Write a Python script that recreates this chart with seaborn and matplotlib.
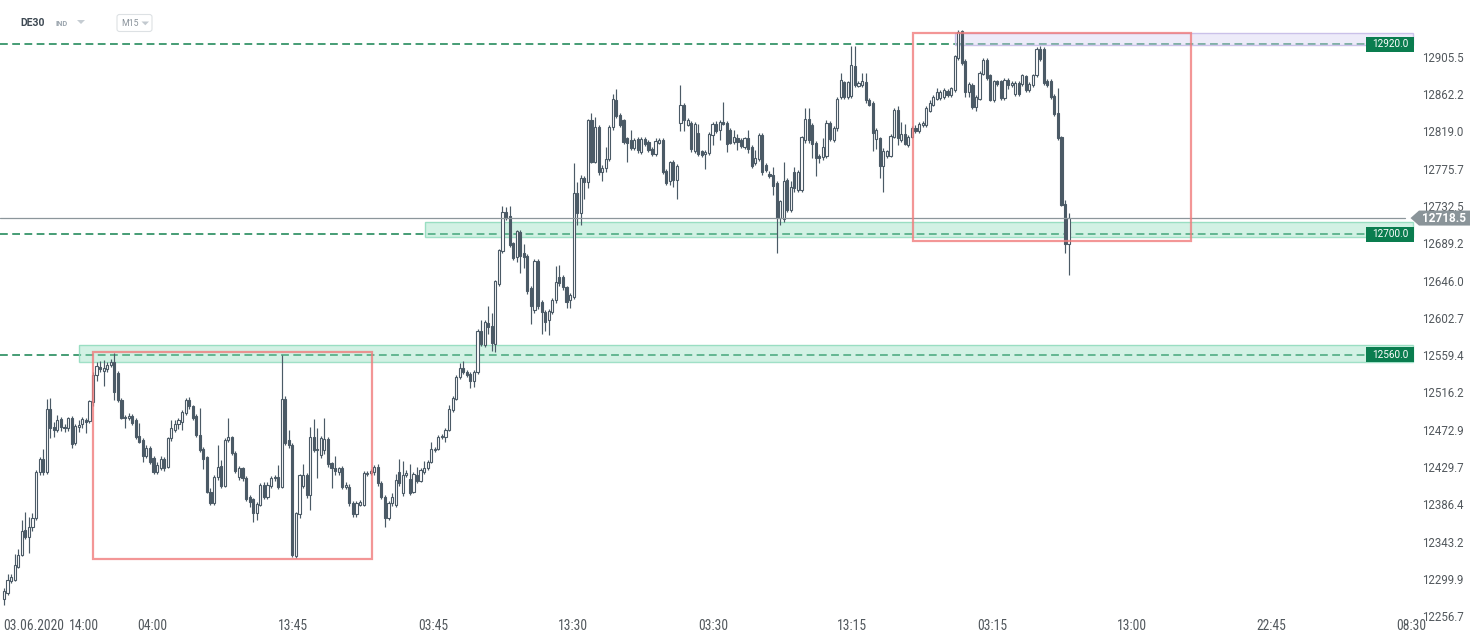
# -*- coding: utf-8 -*-
"""
DE30 M15 candles with support / resistance zones (XTB style screenshot).
"""

import numpy as np
import pandas as pd
import seaborn as sns
import matplotlib.pyplot as plt
from matplotlib import font_manager
from matplotlib.patches import Rectangle, Polygon, FancyBboxPatch
from matplotlib.transforms import IdentityTransform


# Candles (M15)
candle_open = [
    12276, 12284, 12297, 12299, 12314, 12328, 12357, 12348, 12360, 12370,
    12424, 12439, 12424, 12497, 12476, 12473, 12485, 12476, 12475, 12486,
    12457, 12476, 12479, 12484, 12483, 12505, 12536, 12546, 12541, 12543,
    12548, 12551, 12539, 12508, 12488, 12486, 12489, 12484, 12466, 12461,
    12442, 12452, 12440, 12424, 12429, 12439, 12430, 12463, 12473, 12479,
    12482, 12492, 12508, 12500, 12489, 12467, 12451, 12441, 12401, 12388,
    12418, 12431, 12408, 12461, 12464, 12446, 12418, 12428, 12417, 12395,
    12392, 12376, 12386, 12409, 12395, 12408, 12417, 12418, 12407, 12509,
    12461, 12455, 12326, 12375, 12408, 12420, 12397, 12464, 12449, 12444,
    12449, 12462, 12434, 12429, 12424, 12428, 12407, 12407, 12388, 12375,
    12386, 12386, 12421, 12423, 12424, 12430, 12411, 12395, 12371, 12388,
    12386, 12424, 12399, 12420, 12416, 12401, 12420, 12414, 12424, 12428,
    12436, 12449, 12451, 12464, 12464, 12473, 12496, 12509, 12534, 12545,
    12540, 12538, 12529, 12540, 12587, 12571, 12597, 12593, 12572, 12642,
    12680, 12726, 12721, 12689, 12673, 12702, 12678, 12674, 12637, 12612,
    12669, 12621, 12610, 12600, 12609, 12623, 12650, 12650, 12638, 12623,
    12627, 12748, 12724, 12765, 12760, 12832, 12784, 12824, 12772, 12777,
    12787, 12824, 12856, 12838, 12832, 12811, 12809, 12800, 12810, 12795,
    12810, 12807, 12799, 12793, 12806, 12809, 12773, 12761, 12783, 12763,
    12829, 12850, 12827, 12829, 12796, 12817, 12796, 12793, 12794, 12815,
    12828, 12821, 12830, 12829, 12821, 12807, 12811, 12809, 12801, 12811,
    12801, 12782, 12787, 12815, 12780, 12770, 12769, 12759, 12718, 12717,
    12763, 12728, 12772, 12751, 12751, 12809, 12833, 12827, 12806, 12791,
    12789, 12790, 12829, 12809, 12823, 12859, 12876, 12859, 12860, 12895,
    12872, 12873, 12876, 12856, 12852, 12810, 12811, 12779, 12790, 12791,
    12813, 12844, 12809, 12816, 12803, 12813, 12823, 12819, 12826, 12826,
    12843, 12850, 12857, 12858, 12859, 12866, 12861, 12867, 12904, 12935,
    12901, 12865, 12873, 12847, 12857, 12886, 12902, 12884, 12855, 12877,
    12877, 12858, 12879, 12873, 12862, 12875, 12874, 12883, 12867, 12873,
    12884, 12915, 12915, 12878, 12878, 12860, 12840, 12812, 12735, 12688,
]
candle_high = [
    12289, 12306, 12306, 12329, 12335, 12368, 12378, 12372, 12376, 12426,
    12441, 12450, 12509, 12510, 12482, 12490, 12488, 12480, 12488, 12489,
    12480, 12484, 12488, 12487, 12508, 12540, 12552, 12553, 12554, 12552,
    12555, 12562, 12541, 12510, 12490, 12492, 12491, 12486, 12481, 12463,
    12455, 12454, 12442, 12435, 12442, 12441, 12465, 12484, 12484, 12487,
    12496, 12510, 12511, 12502, 12491, 12498, 12453, 12443, 12405, 12420,
    12455, 12438, 12463, 12486, 12466, 12448, 12431, 12430, 12419, 12397,
    12394, 12389, 12411, 12412, 12412, 12419, 12420, 12432, 12560, 12512,
    12473, 12458, 12378, 12422, 12433, 12423, 12476, 12485, 12475, 12466,
    12487, 12465, 12436, 12442, 12430, 12431, 12412, 12410, 12390, 12390,
    12391, 12425, 12425, 12427, 12432, 12433, 12413, 12397, 12390, 12399,
    12421, 12439, 12437, 12426, 12433, 12424, 12430, 12428, 12437, 12438,
    12459, 12453, 12467, 12468, 12475, 12502, 12512, 12537, 12550, 12553,
    12542, 12540, 12542, 12590, 12600, 12600, 12616, 12608, 12647, 12683,
    12732, 12731, 12733, 12691, 12705, 12705, 12688, 12677, 12640, 12671,
    12671, 12623, 12612, 12613, 12626, 12663, 12664, 12652, 12640, 12631,
    12782, 12760, 12768, 12767, 12834, 12840, 12836, 12826, 12780, 12801,
    12826, 12863, 12868, 12840, 12834, 12813, 12821, 12811, 12812, 12812,
    12813, 12809, 12801, 12811, 12811, 12811, 12775, 12785, 12786, 12781,
    12873, 12852, 12835, 12831, 12830, 12828, 12798, 12797, 12818, 12830,
    12831, 12832, 12853, 12831, 12823, 12821, 12816, 12811, 12813, 12821,
    12803, 12798, 12817, 12817, 12782, 12773, 12778, 12761, 12740, 12783,
    12765, 12761, 12778, 12774, 12814, 12846, 12846, 12829, 12808, 12793,
    12811, 12832, 12831, 12825, 12859, 12887, 12878, 12878, 12918, 12918,
    12877, 12887, 12887, 12858, 12854, 12823, 12813, 12800, 12798, 12816,
    12846, 12848, 12830, 12828, 12815, 12825, 12826, 12830, 12831, 12848,
    12855, 12861, 12869, 12867, 12869, 12868, 12871, 12908, 12937, 12937,
    12903, 12876, 12875, 12861, 12889, 12904, 12904, 12886, 12879, 12879,
    12879, 12881, 12881, 12877, 12877, 12877, 12886, 12885, 12876, 12886,
    12917, 12918, 12917, 12880, 12880, 12862, 12869, 12814, 12740, 12724,
]
candle_low = [
    12270, 12281, 12295, 12297, 12312, 12326, 12346, 12330, 12356, 12368,
    12420, 12420, 12422, 12463, 12465, 12470, 12472, 12470, 12472, 12452,
    12455, 12470, 12475, 12469, 12481, 12500, 12529, 12540, 12524, 12540,
    12546, 12507, 12505, 12485, 12475, 12484, 12478, 12462, 12457, 12436,
    12440, 12433, 12422, 12422, 12426, 12425, 12428, 12460, 12470, 12474,
    12473, 12490, 12497, 12484, 12465, 12447, 12427, 12399, 12386, 12386,
    12415, 12405, 12406, 12459, 12444, 12423, 12415, 12414, 12390, 12383,
    12366, 12368, 12384, 12393, 12393, 12405, 12413, 12404, 12405, 12455,
    12452, 12325, 12324, 12370, 12405, 12394, 12380, 12447, 12417, 12440,
    12445, 12430, 12405, 12420, 12420, 12404, 12404, 12385, 12372, 12372,
    12384, 12384, 12419, 12420, 12420, 12408, 12393, 12360, 12368, 12385,
    12383, 12408, 12396, 12418, 12397, 12399, 12411, 12412, 12422, 12426,
    12434, 12447, 12449, 12462, 12459, 12471, 12494, 12507, 12532, 12538,
    12534, 12521, 12523, 12538, 12570, 12569, 12584, 12564, 12563, 12640,
    12678, 12716, 12685, 12670, 12668, 12655, 12660, 12630, 12596, 12608,
    12613, 12584, 12587, 12583, 12607, 12620, 12640, 12635, 12614, 12614,
    12625, 12711, 12710, 12741, 12753, 12782, 12782, 12768, 12761, 12772,
    12785, 12821, 12835, 12824, 12805, 12784, 12798, 12798, 12794, 12793,
    12802, 12795, 12791, 12790, 12804, 12770, 12757, 12757, 12755, 12741,
    12819, 12819, 12825, 12795, 12794, 12791, 12789, 12775, 12792, 12803,
    12817, 12809, 12826, 12795, 12804, 12804, 12798, 12800, 12799, 12794,
    12777, 12780, 12785, 12768, 12772, 12765, 12745, 12678, 12710, 12714,
    12725, 12725, 12749, 12749, 12749, 12806, 12806, 12788, 12767, 12782,
    12786, 12788, 12808, 12807, 12820, 12857, 12857, 12857, 12858, 12870,
    12870, 12871, 12852, 12848, 12796, 12799, 12765, 12749, 12788, 12789,
    12811, 12803, 12807, 12803, 12801, 12811, 12817, 12817, 12824, 12824,
    12841, 12848, 12855, 12856, 12857, 12859, 12859, 12865, 12902, 12896,
    12859, 12859, 12845, 12843, 12855, 12884, 12879, 12854, 12853, 12872,
    12856, 12856, 12868, 12871, 12860, 12860, 12872, 12865, 12865, 12871,
    12882, 12901, 12873, 12871, 12857, 12837, 12809, 12732, 12678, 12652,
]
candle_close = [
    12286, 12299, 12302, 12316, 12328, 12356, 12348, 12360, 12370, 12424,
    12439, 12424, 12497, 12475, 12473, 12484, 12476, 12475, 12486, 12456,
    12477, 12478, 12485, 12482, 12506, 12536, 12547, 12543, 12544, 12548,
    12551, 12517, 12507, 12487, 12486, 12489, 12481, 12464, 12459, 12442,
    12452, 12436, 12424, 12432, 12439, 12429, 12463, 12475, 12479, 12484,
    12493, 12508, 12500, 12486, 12467, 12449, 12439, 12401, 12388, 12418,
    12430, 12408, 12461, 12464, 12446, 12425, 12428, 12417, 12393, 12389,
    12376, 12387, 12409, 12395, 12409, 12417, 12418, 12407, 12509, 12458,
    12455, 12328, 12376, 12420, 12420, 12397, 12464, 12449, 12451, 12463,
    12462, 12433, 12428, 12425, 12428, 12407, 12409, 12388, 12375, 12388,
    12389, 12423, 12423, 12425, 12430, 12411, 12395, 12371, 12388, 12395,
    12415, 12411, 12420, 12423, 12400, 12422, 12413, 12426, 12428, 12436,
    12450, 12451, 12465, 12466, 12473, 12497, 12510, 12534, 12545, 12540,
    12536, 12529, 12540, 12587, 12572, 12598, 12592, 12573, 12645, 12681,
    12726, 12719, 12687, 12672, 12703, 12674, 12673, 12634, 12616, 12669,
    12617, 12610, 12598, 12611, 12623, 12644, 12643, 12638, 12621, 12629,
    12748, 12724, 12765, 12760, 12832, 12784, 12824, 12772, 12777, 12787,
    12824, 12857, 12837, 12826, 12807, 12806, 12800, 12809, 12797, 12810,
    12805, 12797, 12793, 12808, 12809, 12772, 12759, 12783, 12763, 12779,
    12850, 12832, 12832, 12799, 12828, 12793, 12792, 12795, 12816, 12828,
    12819, 12830, 12828, 12805, 12806, 12812, 12807, 12802, 12811, 12799,
    12779, 12788, 12815, 12772, 12774, 12767, 12756, 12718, 12738, 12762,
    12728, 12755, 12753, 12772, 12812, 12833, 12809, 12805, 12788, 12788,
    12801, 12829, 12810, 12823, 12857, 12879, 12859, 12876, 12896, 12873,
    12875, 12877, 12855, 12850, 12817, 12821, 12779, 12796, 12796, 12814,
    12844, 12811, 12816, 12804, 12813, 12823, 12819, 12828, 12829, 12846,
    12852, 12859, 12865, 12865, 12867, 12861, 12869, 12906, 12934, 12898,
    12865, 12874, 12847, 12859, 12887, 12902, 12881, 12856, 12877, 12874,
    12858, 12879, 12873, 12875, 12875, 12862, 12884, 12867, 12874, 12884,
    12915, 12903, 12875, 12873, 12859, 12839, 12811, 12734, 12688, 12718.5,
]

# Axis labels
x_tick_pos = [8.4, 22.5, 41.7, 81.2, 120.5, 159.8, 199.2, 238.2, 277.7,
              316.7, 356.0, 395.4]
x_tick_text = ["03.06.2020", "14:00", "04:00", "13:45", "03:45", "13:30",
               "03:30", "13:15", "03:15", "13:00", "22:45", "08:30"]
y_tick_values = [12256.7, 12299.9, 12343.2, 12386.4, 12429.7, 12472.9,
                 12516.2, 12559.4, 12602.7, 12646.0, 12689.2, 12732.5,
                 12775.7, 12819.0, 12862.2, 12905.5]

# Levels and zones
level_values = [12920.0, 12700.0, 12560.0]
last_price = 12718.5
zone_low = [12696.2, 12551.9, 12919.3]
zone_high = [12714.3, 12570.9, 12932.8]
zone_start = [118.3, 21.2, 267.1]
# red boxes: (first candle, last candle, low, high)
box_x0 = [25.1, 255.4]
box_x1 = [103.3, 333.4]
box_low = [12322.6, 12692.2]
box_high = [12563.5, 12932.8]


# Style
sns.set_theme(style="white")
plt.rcParams['font.family'] = ['Roboto', 'DejaVu Sans']
plt.rcParams['lines.scale_dashes'] = False

available = {f.name for f in font_manager.fontManager.ttflist}
if 'Liberation Sans Narrow' in available:
    narrow, x_size = 'Liberation Sans Narrow', 10.3
elif 'Roboto Condensed' in available:
    narrow, x_size = 'Roboto Condensed', 9.8
else:
    narrow, x_size = 'Roboto', 8.8

candle_color = "#4b5a66"
level_color = "#13824f"
tag_green = "#0a7d4f"
tag_gray = "#8a9499"
label_color = "#52585d"

W, H = 1482, 643
fig = plt.figure(figsize=(W / 100, H / 100), dpi=100)
fig.patch.set_facecolor("white")
ax = fig.add_axes([0, 25 / H, 1415 / W, 618 / H])
ax.set_facecolor("white")
ax.set_xlim(-1.12, 396.3)
ax.set_ylim(12254.5, 12971.5)

df = pd.DataFrame({"open": candle_open, "high": candle_high,
                   "low": candle_low, "close": candle_close})
df["x"] = np.arange(len(df))
bull = df["close"] >= df["open"]
body_bottom = df[["open", "close"]].min(axis=1)
body_height = np.maximum((df["close"] - df["open"]).abs(), 0.7)

# levels (dashed) and last price line
for v in level_values:
    ax.axhline(v, xmin=0, xmax=1366 / 1415, color=level_color, lw=1.1,
               dashes=(5.6, 3.2), zorder=1)

# zones
zone_faces = ["#8fdcbd", "#8fdcbd", "#d4cdf0"]
zone_edges = [(0.56, 0.86, 0.74, 0.85), (0.56, 0.86, 0.74, 0.85),
              (0.78, 0.74, 0.91, 0.9)]
for lo, hi, start, fc, ec in zip(zone_low, zone_high, zone_start,
                                 zone_faces, zone_edges):
    x_frac = (start + 1.12) / (396.3 + 1.12)
    ax.axhspan(lo, hi, xmin=x_frac, xmax=1413 / 1415, facecolor=fc,
               alpha=0.4, lw=0, zorder=2)
    ax.axhspan(lo, hi, xmin=x_frac, xmax=1413 / 1415, fill=False,
               edgecolor=ec, lw=1.0, zorder=2)

# candles
ax.vlines(df["x"], df["low"], df["high"], color=candle_color, lw=0.85,
          zorder=3)
ax.bar(df["x"], body_height, bottom=body_bottom, width=0.6,
       color=np.where(bull, "white", candle_color),
       edgecolor=candle_color, linewidth=0.8, zorder=4)

ax.axhline(last_price, xmin=0, xmax=1405 / 1415, color="#8c969b", lw=0.9,
           zorder=5)

# red boxes
for x0, x1, lo, hi in zip(box_x0, box_x1, box_low, box_high):
    ax.add_patch(Rectangle((x0, lo), x1 - x0, hi - lo, fill=False,
                           edgecolor="#f07c7c", lw=1.6, alpha=0.8,
                           zorder=6))

# axes
sns.despine(ax=ax, left=True, bottom=True, right=True, top=True)
ax.grid(False)
ax.yaxis.tick_right()
ax.set_yticks(y_tick_values, labels=[f"{v:.1f}" for v in y_tick_values])
ax.tick_params(axis="y", length=0, pad=5, labelsize=8.3,
               labelcolor=label_color)
ax.set_xticks(x_tick_pos, labels=x_tick_text, fontfamily=narrow)
ax.tick_params(axis="x", length=0, pad=0.5, labelsize=x_size,
               labelcolor=label_color)

# price tags on the right (pixel coords)
ident = IdentityTransform()
fig.canvas.draw()


def y_px(v):
    return ax.transData.transform((0, v))[1]


for v in level_values:
    yc = y_px(v)
    fig.add_artist(Rectangle((1366, yc - 7.5), 48, 15, facecolor=tag_green,
                             edgecolor="none", transform=ident, zorder=10))
    fig.text(1390, yc, f"{v:.1f}", color="white", fontsize=7.2,
             ha="center", va="center", transform=ident, zorder=11)

yc = y_px(last_price)
fig.add_artist(Polygon([(1410.5, yc), (1419, yc + 7.5), (1470, yc + 7.5),
                        (1470, yc - 7.5), (1419, yc - 7.5)],
                       closed=True, facecolor=tag_gray, edgecolor="none",
                       transform=ident, zorder=10))
fig.text(1444, yc, f"{last_price:.1f}", color="white", fontsize=8.5,
         fontweight="bold", ha="center", va="center", transform=ident,
         zorder=11)

# header
fig.text(20, H - 23, "DE30", fontsize=7.5, fontweight="bold",
         color="#3d4852", ha="left", va="center", transform=ident)
fig.text(56, H - 24, "IND", fontsize=5.3, fontweight="bold",
         color="#9aa4ad", ha="left", va="center", transform=ident)
fig.add_artist(Polygon([(77, H - 20), (85, H - 20), (81, H - 24)],
                       closed=True, facecolor="#c5ccd2", edgecolor="none",
                       transform=ident))
fig.add_artist(FancyBboxPatch((117, H - 31.5), 35, 17,
                              boxstyle="round,pad=0,rounding_size=2.5",
                              facecolor="white", edgecolor="#dde1e4",
                              lw=0.8, transform=ident))
fig.text(121.5, H - 23, "M15", fontsize=6.3, color="#8a939b", ha="left",
         va="center", transform=ident)
fig.add_artist(Polygon([(141.5, H - 21.5), (149, H - 21.5),
                        (145.3, H - 25.3)],
                       closed=True, facecolor="#c2c9cf", edgecolor="none",
                       transform=ident))

fig.savefig("out.png", dpi=100)
